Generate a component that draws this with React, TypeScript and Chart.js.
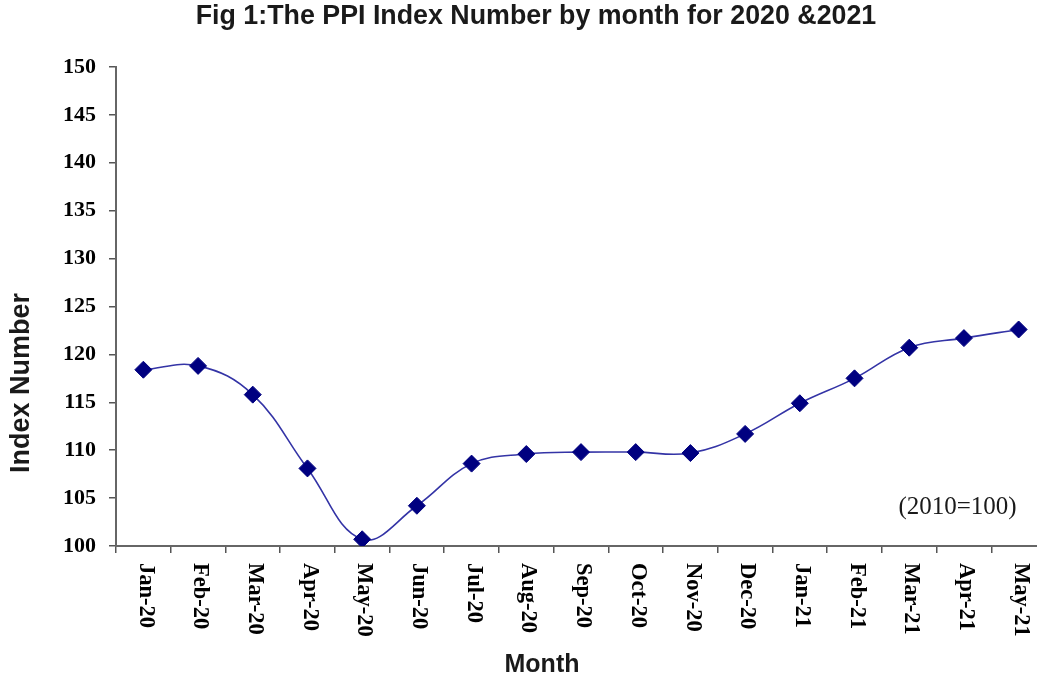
import React, { useEffect, useRef } from "react";
import { Chart, registerables } from "chart.js";

Chart.register(...registerables);

const months = [
  "Jan-20", "Feb-20", "Mar-20", "Apr-20", "May-20", "Jun-20", "Jul-20", "Aug-20", "Sep-20",
  "Oct-20", "Nov-20", "Dec-20", "Jan-21", "Feb-21", "Mar-21", "Apr-21", "May-21",
];
const ppiIndex = [
  118.4, 118.8, 115.8, 108.1, 100.7, 104.2, 108.6, 109.6, 109.8,
  109.8, 109.7, 111.7, 114.9, 117.5, 120.7, 121.7, 122.6,
];
const yTicks = { min: 100, max: 150, step: 5 };
const titleText = "Fig 1:The PPI Index Number by month for 2020 &2021";
const xTitle = "Month";
const yTitle = "Index Number";
const baseNote = "(2010=100)";

const SANS = "'Liberation Sans', Arial, sans-serif";
const SERIF = "'Liberation Serif', 'Times New Roman', serif";

const extrasPlugin = {
  id: "extras",
  afterDraw(chart: any) {
    const { ctx, scales, chartArea } = chart;
    const x = scales.x;
    const y = scales.y;
    ctx.save();
    // main title
    ctx.fillStyle = "#1a1a1a";
    ctx.font = `bold 26.8px ${SANS}`;
    ctx.textAlign = "center";
    ctx.textBaseline = "middle";
    ctx.fillText(titleText, 536, 17);
    // x title
    ctx.font = `bold 25px ${SANS}`;
    ctx.fillText(xTitle, 542, 665);
    // y title
    ctx.save();
    ctx.translate(22, 383);
    ctx.rotate(-Math.PI / 2);
    ctx.font = `bold 27px ${SANS}`;
    ctx.fillText(yTitle, 0, 0);
    ctx.restore();
    // x category labels
    ctx.fillStyle = "#000";
    ctx.font = `bold 22.5px ${SERIF}`;
    ctx.textAlign = "left";
    months.forEach((m, i) => {
      const px = x.getPixelForValue(i);
      ctx.save();
      ctx.translate(px + 2, chartArea.bottom + 17);
      ctx.rotate(Math.PI / 2);
      ctx.fillText(m, 0, 0);
      ctx.restore();
    });
    // base note
    ctx.font = `25px ${SERIF}`;
    ctx.textAlign = "right";
    ctx.fillStyle = "#1a1a1a";
    ctx.fillText(baseNote, x.getPixelForValue(months.length - 1) - 2, y.getPixelForValue(104));
    ctx.restore();
  },
};

export default function App() {
  const ref = useRef<HTMLCanvasElement | null>(null);
  useEffect(() => {
    if (!ref.current) return;
    const chart = new Chart(ref.current, {
      type: "line",
      data: {
        labels: months,
        datasets: [
          {
            data: ppiIndex,
            borderColor: "#3434a6",
            borderWidth: 1.6,
            tension: 0.4,
            pointStyle: "rectRot",
            pointRadius: 8.5,
            pointBackgroundColor: "#000080",
            pointBorderColor: "#000080",
            pointBorderWidth: 1,
            fill: false,
          },
        ],
      },
      options: {
        animation: false,
        responsive: false,
        devicePixelRatio: 1,
        layout: { padding: { left: 0, right: 30, top: 67, bottom: 0 } },
        plugins: {
          legend: { display: false },
          tooltip: { enabled: false },
          title: { display: false },
        },
        scales: {
          x: {
            type: "category",
            offset: true,
            grid: {
              offset: true,
              drawOnChartArea: false,
              drawTicks: true,
              tickLength: 7,
              color: "#555",
              lineWidth: 1.5,
            },
            border: { color: "#666", width: 2 },
            ticks: { display: false },
            afterFit: (s: any) => {
              s.height = 136;
            },
          },
          y: {
            min: yTicks.min,
            max: yTicks.max,
            grid: {
              drawOnChartArea: false,
              drawTicks: true,
              tickLength: 7,
              color: "#555",
              lineWidth: 1.5,
            },
            border: { color: "#666", width: 2 },
            ticks: {
              stepSize: yTicks.step,
              color: "#000",
              padding: 13,
              font: { family: SERIF, size: 22, weight: "bold" },
            },
            afterFit: (s: any) => {
              s.width = 116;
            },
          },
        },
      },
      plugins: [extrasPlugin],
    });
    return () => chart.destroy();
  }, []);
  return (
    <div
      style={{
        position: "fixed",
        left: 0,
        top: 0,
        width: 1037,
        height: 682,
        overflow: "hidden",
        background: "#fff",
      }}
    >
      <canvas ref={ref} width={1076} height={682} style={{ width: 1076, height: 682, display: "block" }} />
    </div>
  );
}
